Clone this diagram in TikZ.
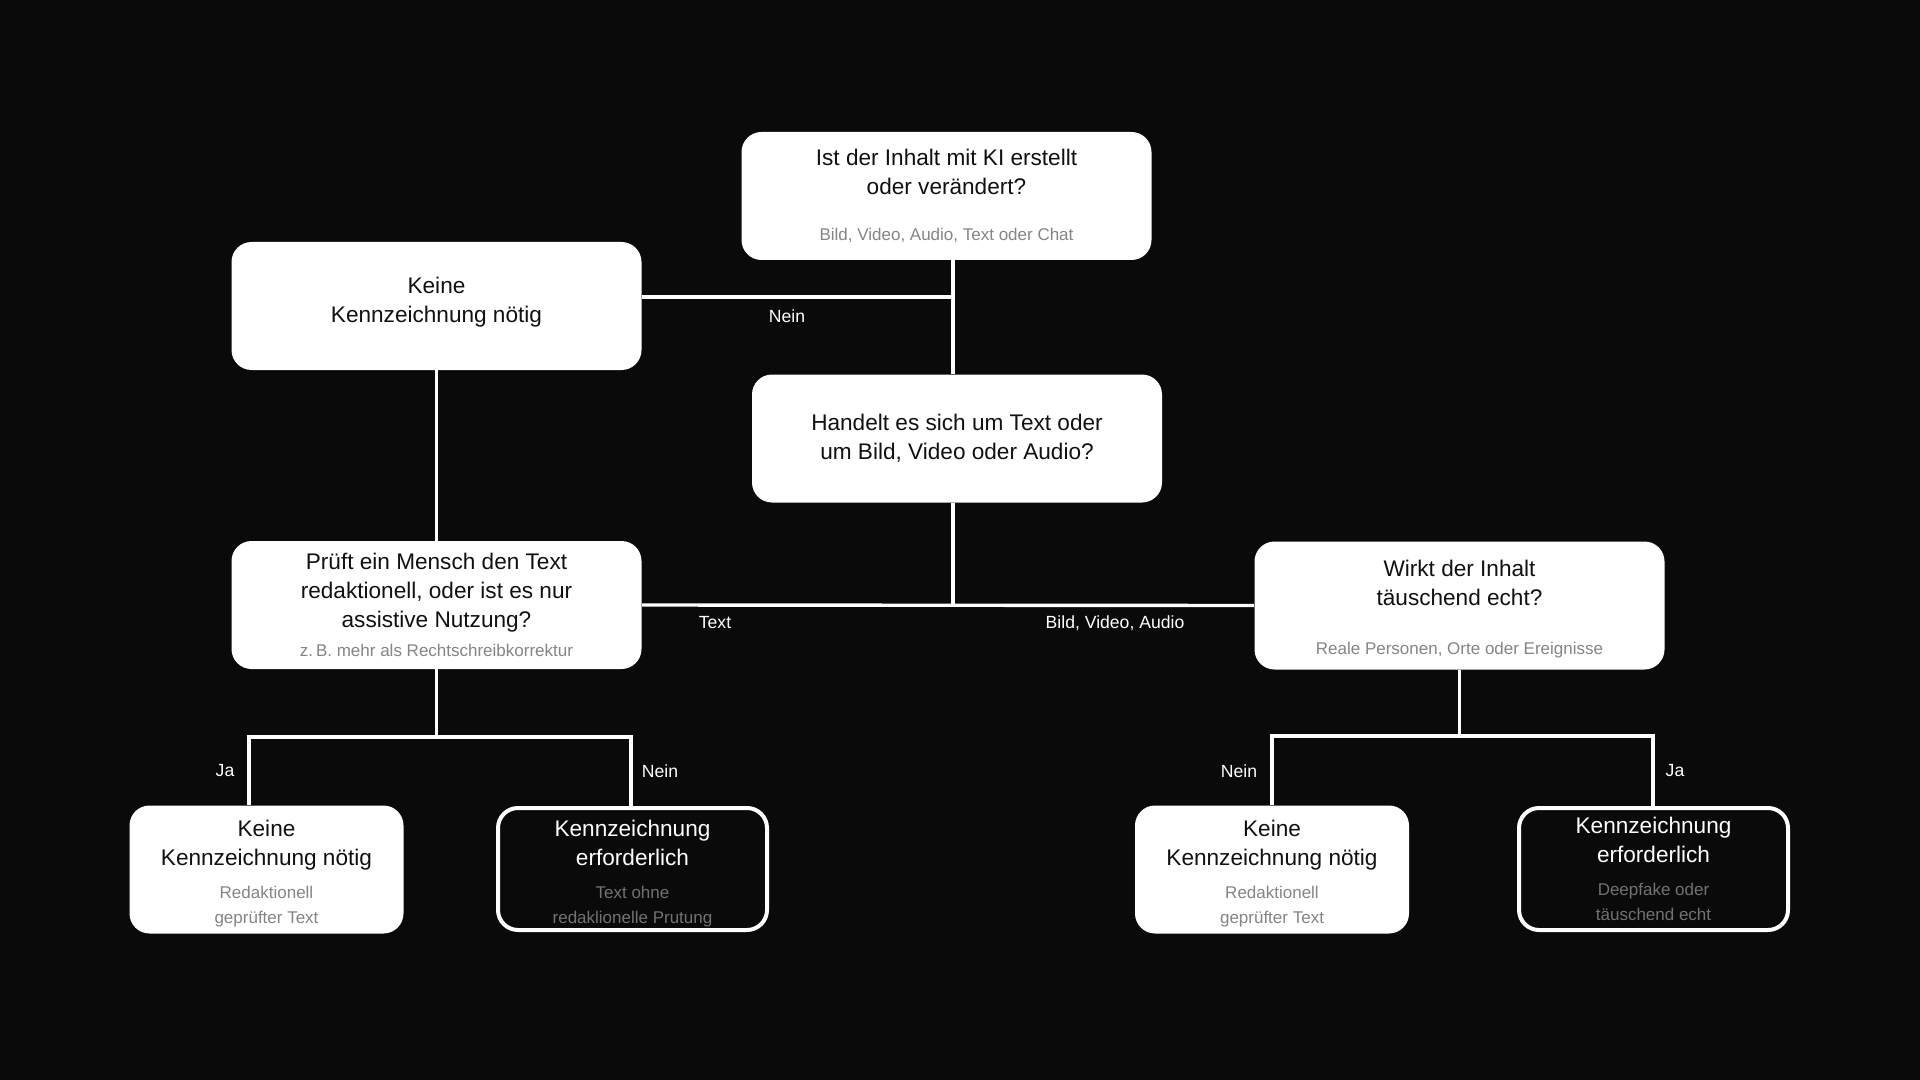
\documentclass[tikz,border=0pt]{standalone}
\usepackage{fontspec}
\setmainfont{Liberation Sans}

\definecolor{bgColor}{HTML}{0A0A0A}
\definecolor{inkColor}{HTML}{111111}
\definecolor{subColor}{HTML}{858585}
\definecolor{darkSubColor}{HTML}{727272}
\newcommand{\subLight}[1]{{\color{subColor}\fontsize{8.5}{10.5}\selectfont #1}}
\newcommand{\subDark}[1]{{\color{darkSubColor}\fontsize{8.5}{10.5}\selectfont #1}}

\begin{document}
\begin{tikzpicture}
[x=0.5pt,y=-0.5pt,
  boxWhite/.style={shape=rectangle,rounded corners=10pt,fill=white,text=inkColor,
    inner sep=0pt,align=center,minimum height=64pt,font=\fontsize{11.3}{14.5}\selectfont},%
  boxWide/.style={boxWhite,minimum width=205pt},%
  boxSmall/.style={boxWhite,minimum width=137pt},%
  boxDark/.style={boxWhite,fill=bgColor,draw=white,line width=2pt,text=white,
    minimum width=134.5pt,minimum height=61pt},%
  lineDecorate/.style={-,draw=white,line width=1.7pt},%
  labelDecorate/.style={text=white,inner sep=0pt,font=\fontsize{8.8}{10}\selectfont}]
%% background and margins
\fill[bgColor] (0,0) rectangle (1920,1080);
%% nodes or vertices
\node (start) at (946.5,196) [boxWide] {Ist der Inhalt mit KI erstellt\\oder verändert?\\[8.5pt]\subLight{Bild, Video, Audio, Text oder Chat}};
\node (keine1) at (436.5,306) [boxWide] {Keine\\Kennzeichnung nötig\\[-8pt]\mbox{}};
\node (art) at (957,438.5) [boxWide] {Handelt es sich um Text oder\\um Bild, Video oder Audio?};
\node (pruef) at (436.5,605) [boxWide] {Prüft ein Mensch den Text\\redaktionell, oder ist es nur\\assistive Nutzung?\\[0pt]\subLight{z.\,B. mehr als Rechtschreibkorrektur}};
\node (wirkt) at (1459.5,605.5) [boxWide] {\rule{0pt}{3.5pt}\\[-6pt]Wirkt der Inhalt\\täuschend echt?\\[10pt]\subLight{Reale Personen, Orte oder Ereignisse}};
\node (keine2) at (266.5,869.5) [boxSmall] {\rule{0pt}{4pt}\\[-6pt]Keine\\Kennzeichnung nötig\\[2pt]\subLight{Redaktionell}\\[-2pt]\subLight{geprüfter Text}};
\node (pflicht1) at (632.5,869) [boxDark] {\rule{0pt}{4pt}\\[-6pt]Kennzeichnung\\erforderlich\\[2pt]\subDark{Text ohne}\\[-2pt]\subDark{redaklionelle Prutung}};
\node (keine3) at (1272,869.5) [boxSmall] {\rule{0pt}{4pt}\\[-6pt]Keine\\Kennzeichnung nötig\\[2pt]\subLight{Redaktionell}\\[-2pt]\subLight{geprüfter Text}};
\node (pflicht2) at (1653.5,869) [boxDark] {Kennzeichnung\\erforderlich\\[2pt]\subDark{Deepfake oder}\\[-2pt]\subDark{täuschend echt}};
%% junctions of the lines
\coordinate (j1) at (953,297);
\coordinate (j2) at (953,605);
\coordinate (j3) at (436.5,737);
\coordinate (j3l) at (249,737);
\coordinate (j3r) at (631,737);
\coordinate (j4) at (1459.5,736);
\coordinate (j4l) at (1272,736);
\coordinate (j4r) at (1653,736);
%% edges or lines
\draw[lineDecorate] (start.south -| j1) -- (art.north -| j1);
\draw[lineDecorate] (keine1.east |- j1) -- (j1);
\draw[lineDecorate] (keine1.south) -- (pruef.north);
\draw[lineDecorate] (art.south -| j2) -- (j2);
\draw[lineDecorate] (pruef.east) -- (wirkt.west);
\draw[lineDecorate] (pruef.south) -- (j3);
\draw[lineDecorate] (keine2.north -| j3l) -- (j3l) -- (j3r) -- (pflicht1.north -| j3r);
\draw[lineDecorate] (wirkt.south) -- (j4);
\draw[lineDecorate] (keine3.north -| j4l) -- (j4l) -- (j4r) -- (pflicht2.north -| j4r);
%% labels on the lines
\node (lNein1) at (787,316) [labelDecorate] {Nein};
\node (lText) at (715,623) [labelDecorate] {Text};
\node (lMedia) at (1115,623) [labelDecorate] {Bild, Video, Audio};
\node (lJa1) at (225,771) [labelDecorate] {Ja};
\node (lNein2) at (660,771) [labelDecorate] {Nein};
\node (lNein3) at (1239,771) [labelDecorate] {Nein};
\node (lJa2) at (1675,771) [labelDecorate] {Ja};
\end{tikzpicture}
\end{document}
